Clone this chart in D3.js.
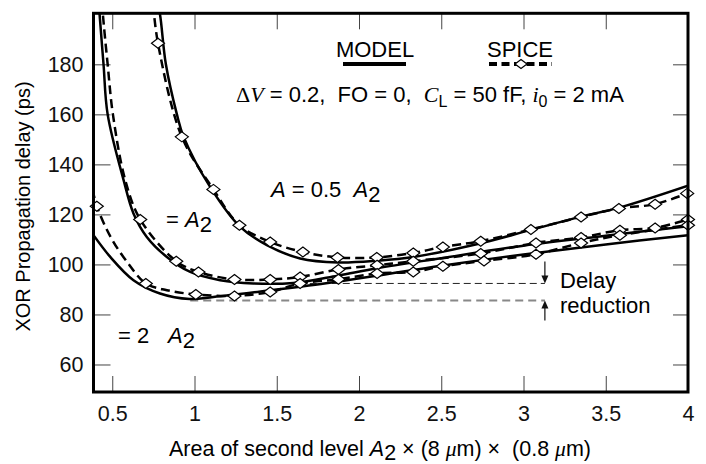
<!DOCTYPE html>
<html>
<head>
<meta charset="utf-8">
<script src="https://cdn.jsdelivr.net/npm/d3@7"></script>
<style>
  body { margin: 0; background: #fff; }
  svg { display: block; font-family: "Liberation Sans", Arial, sans-serif; }
  text { white-space: pre; }
</style>
</head>
<body>
<svg width="706" height="464"></svg>
<script>
// axis ticks
const xTicks = [0.5, 1, 1.5, 2, 2.5, 3, 3.5, 4];
const yTicks = [60, 80, 100, 120, 140, 160, 180];

// model curves (solid) : [area A2, delay ps]
const modelHalf = [[0.775, 204], [0.79, 200], [0.826, 180], [0.893, 160], [0.934, 151], [1.095, 131], [1.278, 115], [1.44, 107.7],
  [1.642, 102.4], [1.873, 100.8], [2.11, 101.5], [2.33, 103], [2.735, 108.4], [3.04, 113.7], [3.343, 119], [3.586, 122.8], [4.0, 131.5]];
const modelOne = [[0.418, 205], [0.423, 200], [0.447, 180], [0.472, 160], [0.569, 133.7], [0.629, 120.4], [0.71, 111], [0.832, 103],
  [0.974, 97], [1.156, 93.7], [1.358, 92.4], [1.6, 92.6], [1.87, 95.5], [2.11, 98.5], [2.5, 102.5], [3.0, 107.5], [3.5, 111.5], [4.0, 115.3]];
const modelTwo = [[0.386, 111.7], [0.488, 103], [0.629, 93.7], [0.79, 88.4], [0.97, 86.2], [1.115, 87], [1.44, 89.5], [1.8, 92.5],
  [2.11, 95.5], [2.5, 99.5], [3.0, 104], [3.5, 108], [4.0, 111.7]];

// SPICE curves (dashed) : [area, delay, diamond?]
const spiceHalf = [[0.748, 204, 0], [0.778, 188.4, 1], [0.923, 151, 1], [1.115, 130, 1], [1.273, 115.7, 1], [1.46, 109, 1], [1.659, 105, 1],
  [1.869, 102.8, 1], [2.108, 102.8, 1], [2.33, 104.6, 1], [2.51, 107, 1], [2.74, 109.3, 1], [3.045, 114, 1], [3.35, 119, 1],
  [3.58, 122.4, 1], [3.8, 124.1, 1], [3.995, 128.4, 1]];
const spiceOne = [[0.438, 205, 0], [0.443, 200, 0], [0.472, 180, 0], [0.504, 160, 0], [0.579, 133.7, 0], [0.67, 118, 1], [0.889, 101.3, 1],
  [1.024, 97, 1], [1.243, 94, 1], [1.46, 94, 1], [1.642, 95, 1], [1.875, 98, 1], [2.11, 99.7, 1], [2.33, 101.3, 1], [2.74, 104.4, 1],
  [3.076, 108.6, 1], [3.35, 110.8, 1], [3.586, 113.7, 1], [3.8, 114.6, 1], [4.0, 118, 1]];
const spiceTwo = [[0.38, 130, 0], [0.406, 123.3, 1], [0.49, 111, 0], [0.59, 101, 0], [0.704, 92.4, 1], [0.832, 89.7, 0], [1.008, 88, 1],
  [1.243, 87.4, 1], [1.46, 89, 1], [1.642, 92.4, 1], [1.875, 94.1, 1], [2.11, 96.4, 1], [2.33, 97, 1], [2.51, 99.3, 1],
  [2.76, 101.4, 1], [3.076, 104.1, 1], [3.35, 108.6, 1], [3.586, 111.7, 1], [4.0, 115.7, 1]];

// delay reduction guide lines : [x start, x end, delay]
const guideUpper = [1.5, 3.13, 92.4];
const guideLower = [0.974, 3.13, 85.6];

const svg = d3.select('svg');

const x = d3.scaleLinear().domain([0.386, 4]).range([93.5, 688]);
const y = d3.scaleLinear().domain([49, 200.4]).range([392, 13.3]);
const [x0, x1] = x.range();
const [y0, y1] = y.range();

svg.append('clipPath').attr('id', 'plot')
  .append('rect').attr('x', x0).attr('y', y1).attr('width', x1 - x0).attr('height', y0 - y1);

// ticks on all four sides, pointing inward
const tickStyle = (g) => {
  g.select('.domain').remove();
  g.selectAll('.tick line').attr('stroke', '#444').attr('stroke-width', 1);
  g.selectAll('.tick text').attr('font-size', 21.5).attr('fill', '#111').attr('font-family', '"Liberation Sans", Arial, sans-serif');
};
svg.append('g').attr('transform', `translate(${x0},0)`)
  .call(d3.axisLeft(y).tickValues(yTicks).tickSizeInner(-17).tickSizeOuter(0).tickPadding(10))
  .call(tickStyle);
svg.append('g').attr('transform', `translate(${x1},0)`)
  .call(d3.axisRight(y).tickValues(yTicks).tickSizeInner(-15).tickSizeOuter(0).tickFormat(''))
  .call(tickStyle);
svg.append('g').attr('transform', `translate(0,${y0})`)
  .call(d3.axisBottom(x).tickValues(xTicks).tickSizeInner(-16).tickSizeOuter(0).tickPadding(14).tickFormat(d3.format('')))
  .call(tickStyle);
svg.append('g').attr('transform', `translate(0,${y1})`)
  .call(d3.axisTop(x).tickValues(xTicks.slice(0, -1)).tickSizeInner(-16).tickSizeOuter(0).tickFormat(''))
  .call(tickStyle);

// guide lines + arrows
const guides = svg.append('g');
guides.append('line')
  .attr('x1', x(guideUpper[0])).attr('x2', x(guideUpper[1]))
  .attr('y1', y(guideUpper[2])).attr('y2', y(guideUpper[2]))
  .attr('stroke', '#222').attr('stroke-width', 1).attr('stroke-dasharray', '7,4');
guides.append('line')
  .attr('x1', x(guideLower[0])).attr('x2', x(guideLower[1]))
  .attr('y1', y(guideLower[2])).attr('y2', y(guideLower[2]))
  .attr('stroke', '#888').attr('stroke-width', 2).attr('stroke-dasharray', '8,5');

const ax = x(guideUpper[1]);
const yu = y(guideUpper[2]);
const yl = y(guideLower[2]);
guides.append('line').attr('x1', ax).attr('x2', ax).attr('y1', yu - 22).attr('y2', yu - 6)
  .attr('stroke', '#111').attr('stroke-width', 1.2);
guides.append('path').attr('d', `M${ax - 3.5},${yu - 8} L${ax + 3.5},${yu - 8} L${ax},${yu} Z`).attr('fill', '#111');
guides.append('line').attr('x1', ax).attr('x2', ax).attr('y1', yl + 20).attr('y2', yl + 6)
  .attr('stroke', '#111').attr('stroke-width', 1.2);
guides.append('path').attr('d', `M${ax - 3.5},${yl + 8} L${ax + 3.5},${yl + 8} L${ax},${yl} Z`).attr('fill', '#111');

// curves
const line = d3.line().x((d) => x(d[0])).y((d) => y(d[1])).curve(d3.curveCatmullRom.alpha(0.5));
const curves = svg.append('g').attr('clip-path', 'url(#plot)');

[modelHalf, modelOne, modelTwo].forEach((s) => {
  curves.append('path').attr('d', line(s))
    .attr('fill', 'none').attr('stroke', '#000').attr('stroke-width', 2.5);
});
[spiceHalf, spiceOne, spiceTwo].forEach((s) => {
  curves.append('path').attr('d', line(s))
    .attr('fill', 'none').attr('stroke', '#000').attr('stroke-width', 2.5).attr('stroke-dasharray', '9,5');
});

const diamond = 'M0,-5 L6.5,0 L0,5 L-6.5,0 Z';
const marks = svg.append('g');
[spiceHalf, spiceOne, spiceTwo].forEach((s) => {
  marks.selectAll(null).data(s.filter((d) => d[2]))
    .enter().append('path')
    .attr('d', diamond)
    .attr('transform', (d) => `translate(${x(d[0])},${y(d[1])})`)
    .attr('fill', '#fff').attr('stroke', '#000').attr('stroke-width', 1.2);
});

// frame
svg.append('rect').attr('x', x0).attr('y', y1).attr('width', x1 - x0).attr('height', y0 - y1)
  .attr('fill', 'none').attr('stroke', '#000').attr('stroke-width', 3);

// legend
const legend = svg.append('g').attr('font-size', 22);
legend.append('text').attr('x', 375).attr('y', 56.7).attr('text-anchor', 'middle').text('MODEL');
legend.append('line').attr('x1', 343).attr('x2', 406).attr('y1', 64).attr('y2', 64)
  .attr('stroke', '#000').attr('stroke-width', 4);
legend.append('text').attr('x', 520).attr('y', 56.7).attr('text-anchor', 'middle').text('SPICE');
legend.append('line').attr('x1', 489).attr('x2', 552).attr('y1', 64).attr('y2', 64)
  .attr('stroke', '#000').attr('stroke-width', 4).attr('stroke-dasharray', '8,4.5');
legend.append('path').attr('d', 'M0,-4.5 L6,0 L0,4.5 L-6,0 Z').attr('transform', 'translate(521,64)')
  .attr('fill', '#fff').attr('stroke', '#000').attr('stroke-width', 1.2);

// conditions line
const serif = '"Liberation Serif", "Times New Roman", serif';
const cond = svg.append('text').attr('x', 236).attr('y', 101.7).attr('font-size', 22);
cond.append('tspan').attr('font-family', serif).text('Δ');
cond.append('tspan').attr('font-family', serif).attr('font-style', 'italic').text('V');
cond.append('tspan').text(' = 0.2,  FO = 0,  ');
cond.append('tspan').attr('font-family', serif).attr('font-style', 'italic').text('C');
cond.append('tspan').attr('font-size', 16).attr('dy', 5).text('L');
cond.append('tspan').attr('dy', -5).text(' = 50 fF, ');
cond.append('tspan').attr('font-family', serif).attr('font-style', 'italic').text('i');
cond.append('tspan').attr('font-size', 16).attr('dy', 5).text('0');
cond.append('tspan').attr('dy', -5).text(' = 2 mA');

// curve labels
const lab1 = svg.append('text').attr('x', 271).attr('y', 196.7).attr('font-size', 22);
lab1.append('tspan').attr('font-style', 'italic').text('A');
lab1.append('tspan').text(' = 0.5  ');
lab1.append('tspan').attr('font-style', 'italic').text('A');
lab1.append('tspan').attr('dy', 5).text('2');

const lab2 = svg.append('text').attr('x', 166).attr('y', 226.7).attr('font-size', 22);
lab2.append('tspan').text('= ');
lab2.append('tspan').attr('font-style', 'italic').text('A');
lab2.append('tspan').attr('dy', 5).text('2');

const lab3 = svg.append('text').attr('x', 118).attr('y', 342.7).attr('font-size', 22);
lab3.append('tspan').text('= 2');
lab3.append('tspan').attr('x', 168).attr('font-style', 'italic').text('A');
lab3.append('tspan').attr('dy', 5).text('2');

svg.append('text').attr('x', 560).attr('y', 288).attr('font-size', 22).text('Delay');
svg.append('text').attr('x', 560).attr('y', 312.7).attr('font-size', 22).text('reduction');

// axis titles
svg.append('text').attr('transform', 'translate(23,206.5) rotate(-90)')
  .attr('text-anchor', 'middle').attr('dominant-baseline', 'central').attr('font-size', 20)
  .text('XOR Propagation delay (ps)');

const xt = svg.append('text').attr('x', 380).attr('y', 456).attr('text-anchor', 'middle').attr('font-size', 21.5);
xt.append('tspan').text('Area of second level ');
xt.append('tspan').attr('font-style', 'italic').text('A');
xt.append('tspan').attr('dy', 4).text('2');
xt.append('tspan').attr('dy', -4).text(' × (8 ');
xt.append('tspan').attr('font-family', serif).attr('font-style', 'italic').text('μ');
xt.append('tspan').text('m) ×  (0.8 ');
xt.append('tspan').attr('font-family', serif).attr('font-style', 'italic').text('μ');
xt.append('tspan').text('m)');
</script>
</body>
</html>
